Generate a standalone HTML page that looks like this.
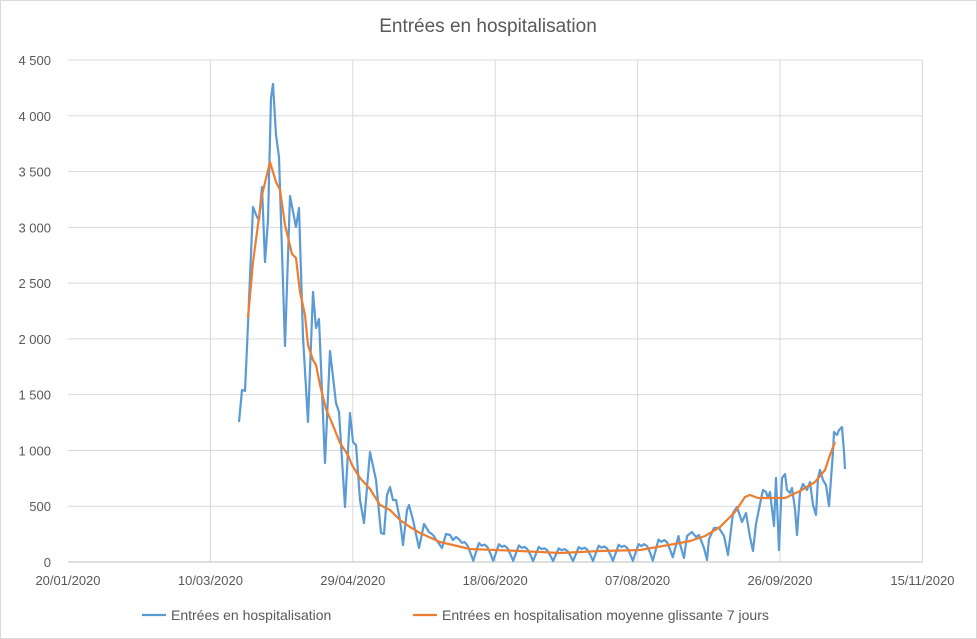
<!DOCTYPE html>
<html><head><meta charset="utf-8"><style>
body{margin:0;background:#fff;}
svg{display:block;font-family:"Liberation Sans",sans-serif;}
</style></head><body>
<svg id="s" width="977" height="639" viewBox="0 0 977 639" xmlns="http://www.w3.org/2000/svg">
<rect x="0.5" y="0.5" width="976" height="638" fill="#fff" stroke="#d9d9d9"/>
<text x="488" y="32" text-anchor="middle" font-size="19" fill="#595959">Entrées en hospitalisation</text>
<g id="grid" stroke="#d9d9d9" stroke-width="1"></g>
<g id="lab" font-size="13" fill="#595959"></g>
<polyline id="blue" fill="none" stroke="#5b9bd5" stroke-width="2.2" stroke-linejoin="round"/>
<polyline id="orange" fill="none" stroke="#ed7d31" stroke-width="2.2" stroke-linejoin="round"/>
<line x1="142" y1="615" x2="166" y2="615" stroke="#5b9bd5" stroke-width="2.2"/>
<text x="171" y="620" font-size="14" fill="#595959">Entrées en hospitalisation</text>
<line x1="413" y1="615" x2="437" y2="615" stroke="#ed7d31" stroke-width="2.2"/>
<text x="442" y="620" font-size="14" fill="#595959">Entrées en hospitalisation moyenne glissante 7 jours</text>
</svg>
<script>
var NS="http://www.w3.org/2000/svg";
var g=document.getElementById('grid'),lab=document.getElementById('lab');
function el(p,t,a,txt){var e=document.createElementNS(NS,t);for(var k in a)e.setAttribute(k,a[k]);if(txt)e.textContent=txt;p.appendChild(e);}
var yl=["0","500","1 000","1 500","2 000","2 500","3 000","3 500","4 000","4 500"];
for(var i=0;i<10;i++){var y=562-i*55.78;if(i>0)el(g,'line',{x1:68,x2:922,y1:y,y2:y});el(lab,'text',{x:51,y:y+5,'text-anchor':'end'},yl[i]);}
var xs=[68,210.4,352.8,495.2,637.6,780,922.4],xl=["20/01/2020","10/03/2020","29/04/2020","18/06/2020","07/08/2020","26/09/2020","15/11/2020"];
for(var i=0;i<7;i++){if(i>0)el(g,'line',{x1:xs[i],x2:xs[i],y1:60,y2:562});el(lab,'text',{x:xs[i],y:585,'text-anchor':'middle'},xl[i]);}
el(g,'line',{x1:68,x2:922,y1:562,y2:562,stroke:'#bfbfbf'});
var O=[[248,318],[253,262],[262,195],[270,162],[276,182],[280,190],[285,225],[292,254],[296,258],[300,292],[305,315],[308,345],[313,360],[316,365],[320,385],[326,409],[332,423],[340,443],[348,455],[352,465],[360,478],[370,489],[380,505],[390,510],[400,520],[410,527],[420,533],[440,542],[470,549],[520,551],[560,553],[600,551],[640,550],[680,543],[690,541],[705,536],[720,527],[735,512],[745,497],[750,495],[758,498],[770,498],[785,498],[800,491],[815,482],[825,470],[830,455],[835,442]];
var B=[[239,422],[242,390],[245,391],[247,347],[253,207],[257,217],[259,220],[262,187],[265,262],[268,220],[271,98],[273,84],[276,135],[279,157],[285,346],[290,196],[296,227],[299,208],[303,337],[308,422],[313,292],[316,328],[319,319],[325,463],[330,351],[336,403],[339,412],[345,507],[350,413],[353,442],[356,445],[360,500],[364,523],[370,452],[376,480],[381,533],[384,534],[387,495],[390,487],[393,500],[396,500],[400,520],[403,545],[407,510],[409,505],[413,520],[419,548],[424,524],[429,532],[433,535],[437,541],[442,548],[446,534],[450,535],[453,540],[456,537]];
function oy(x){for(var i=0;i<O.length-1;i++){if(x>=O[i][0]&&x<=O[i+1][0]){var t=(x-O[i][0])/(O[i+1][0]-O[i][0]);return O[i][1]+t*(O[i+1][1]-O[i][1]);}}return O[O.length-1][1];}
var pat=[-5,-3,-4,-2,3,9,2];var d=0;
for(var x=459;x<680;x+=2.85){var a=Math.min(1.6,(562-oy(x))/9);B.push([x,Math.min(561,oy(x)+pat[d%7]*a*0.9)]);d++;}
B=B.concat([[680,544],[684,558],[687,536],[692,532],[696,537],[699,535],[704,548],[707,560],[709,539],[714,528],[719,528],[724,536],[728,555],[733,513],[737,507],[742,522],[746,513],[750,537],[753,551],[756,524],[760,504],[763,490],[766,492],[768,498],[770,492],[774,526],[776,478],[779,550],[782,478],[785,474],[787,490],[790,493],[792,488],[795,509],[797,535],[800,492],[803,484],[807,490],[810,482],[813,505],[816,515],[818,478],[820,470],[823,480],[826,485],[829,506],[833,452],[834,432],[837,435],[839,430],[842,427],[844,452],[845,469]]);
document.getElementById('blue').setAttribute('points',B.map(function(p){return p[0].toFixed(1)+','+p[1].toFixed(1)}).join(' '));
document.getElementById('orange').setAttribute('points',O.map(function(p){return p.join(',')}).join(' '));
</script>
</body></html>
